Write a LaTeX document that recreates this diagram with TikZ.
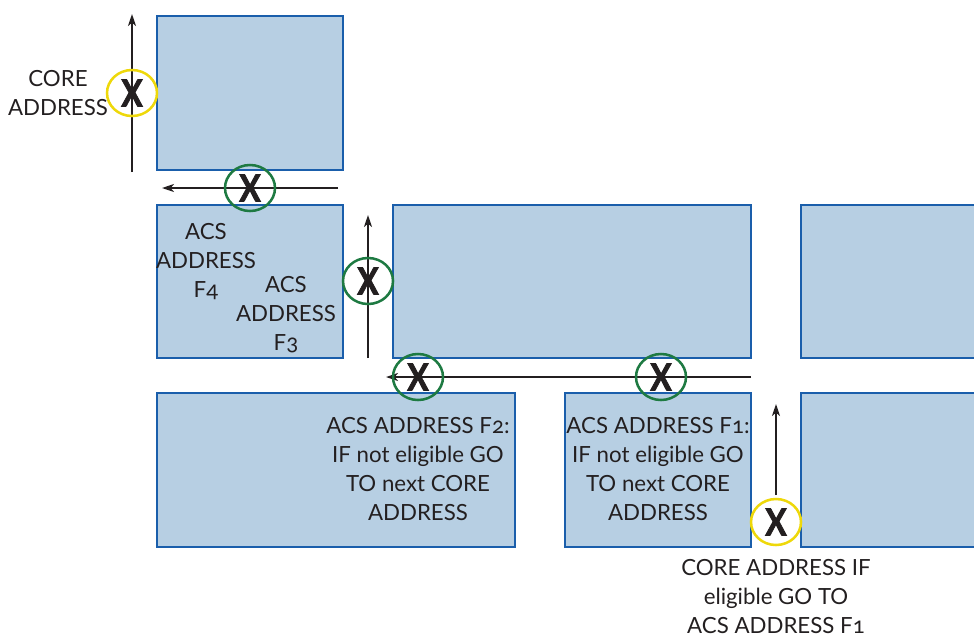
\documentclass[tikz,border=0pt]{standalone}
\usepackage{fontspec}
\setmainfont{Lato}
\newfontfamily\osf[Numbers=OldStyle]{Lato}
\newfontfamily\xfont[FakeBold=2.5]{Lato}
\usetikzlibrary{shapes.geometric,arrows.meta}
\definecolor{boxfill}{HTML}{B7CFE3}
\definecolor{boxline}{HTML}{1A5EAB}
\definecolor{ringyellow}{HTML}{EED80A}
\definecolor{ringgreen}{HTML}{1E7A42}
\definecolor{ink}{HTML}{231F20}
\tikzset{
  block/.style={fill=boxfill,draw=boxline,line width=1.5pt},
  flow/.style={draw=ink,line width=1.5pt,-{Stealth[length=9pt,width=6pt,inset=2.5pt]}},
  ring/.style={ellipse,draw=#1,line width=1.9pt,minimum width=37.5pt,minimum height=34.5pt,inner sep=0pt,
     text=ink,font=\xfont\bfseries\fontsize{28}{28}\selectfont},
  lbl/.style={text=ink,align=center,font=\fontsize{16.7}{21.75}\selectfont,inner sep=0pt}
}
\begin{document}
\begin{tikzpicture}[x=0.75pt,y=-0.75pt]
\useasboundingbox (0,0) rectangle (974,637);
\clip (0,0) rectangle (974,637);
% boxes
\path[block] (157,16) rectangle (343,170);
\path[block] (157,205) rectangle (343,358);
\path[block] (393,205) rectangle (751,358);
\path[block] (801,205) rectangle (990,358);
\path[block] (157,393) rectangle (515,547);
\path[block] (565,393) rectangle (751,547);
\path[block] (801,393) rectangle (990,547);
% arrow end points
\coordinate (a1s) at (132,172); \coordinate (a1e) at (132,14);
\coordinate (a2s) at (338,188); \coordinate (a2e) at (162,188);
\coordinate (a3s) at (368,358); \coordinate (a3e) at (368,215);
\coordinate (a4s) at (751,377); \coordinate (a4e) at (386,377);
\coordinate (a5s) at (776,495); \coordinate (a5e) at (776,404);
\draw[flow] (a1s) -- (a1e);
\draw[flow] (a2s) -- (a2e);
\draw[flow] (a3s) -- (a3e);
\draw[flow] (a4s) -- (a4e);
\draw[flow] (a5s) -- (a5e);
% rings
\node[ring=ringyellow] (y1) at (132,93) {\scalebox{0.85}[1]{X}};
\node[ring=ringgreen] (g1) at (250,188) {\scalebox{0.85}[1]{X}};
\node[ring=ringgreen] (g2) at (368,281) {\scalebox{0.85}[1]{X}};
\node[ring=ringgreen] (g3) at (418,377) {\scalebox{0.85}[1]{X}};
\node[ring=ringgreen] (g4) at (661,377) {\scalebox{0.85}[1]{X}};
\node[ring=ringyellow] (y2) at (776,522) {\scalebox{0.85}[1]{X}};
% labels
\node[lbl] (t1) at (58,93) {CORE\\ADDRESS};
\node[lbl] (t2) at (206,262) {ACS\\ADDRESS\\F{\osf 4}};
\node[lbl] (t3) at (286,315) {ACS\\ADDRESS\\F{\osf 3}};
\node[lbl] (t4) at (418,469) {ACS ADDRESS F{\osf 2}:\\IF not eligible GO\\TO next CORE\\ADDRESS};
\node[lbl] (t5) at (658,469) {ACS ADDRESS F{\osf 1}:\\IF not eligible GO\\TO next CORE\\ADDRESS};
\node[lbl] (t6) at (776,597) {CORE ADDRESS IF\\eligible GO TO\\ACS ADDRESS F{\osf 1}};
\end{tikzpicture}
\end{document}
